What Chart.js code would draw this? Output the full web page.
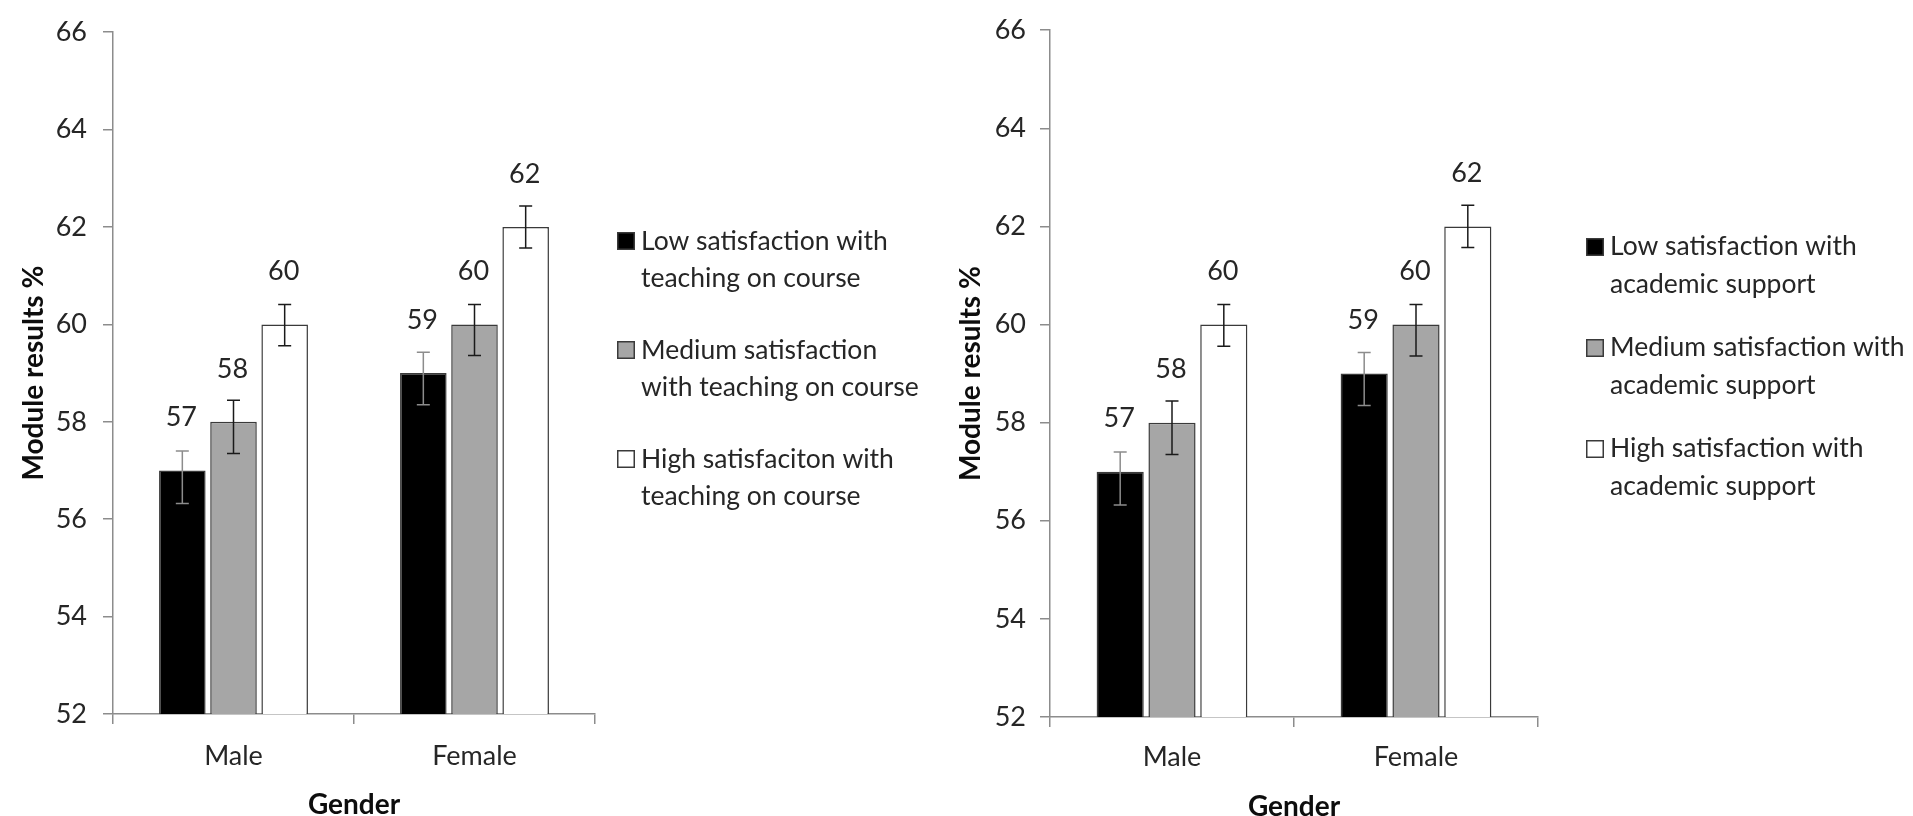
<!DOCTYPE html>
<html>
<head>
<meta charset="utf-8">
<script src="https://cdn.jsdelivr.net/npm/chart.js@4"></script>
<style>
  html, body { margin: 0; padding: 0; background: #fff; overflow: hidden; }
  canvas { position: absolute; top: 0; }
  #leftChart { left: 0; }
  #rightChart { left: 937px; }
</style>
</head>
<body>
<canvas id="leftChart" width="937" height="816"></canvas>
<canvas id="rightChart" width="976" height="816"></canvas>
<script>
// data (both panels show the same means)
const genders = ['Male', 'Female'];
const lowScores = [57, 59];
const mediumScores = [58, 60];
const highScores = [60, 62];
const lowErrUp = [0.4, 0.43];
const lowErrDown = [0.68, 0.65];
const mediumErrUp = [0.44, 0.41];
const mediumErrDown = [0.65, 0.64];
const highErrUp = [0.41, 0.43];
const highErrDown = [0.44, 0.43];
const yMin = 52;
const yMax = 66;
const yStep = 2;
const teachingLabels = [
    ['Low satisfaction with', 'teaching on course'],
    ['Medium satisfaction', 'with teaching on course'],
    ['High satisfaciton with', 'teaching on course']
];
const supportLabels = [
    ['Low satisfaction with', 'academic support'],
    ['Medium satisfaction with', 'academic support'],
    ['High satisfaction with', 'academic support']
];

const textColor = '#262626';
const axisColor = '#8c8c8c';
const barBorder = '#3a3a3a';

// error bars + value labels, positioned through the y scale
const errorBarPlugin = {
    id: 'errorBars',
    afterDatasetsDraw(chart) {
        const ctx = chart.ctx;
        const yScale = chart.scales.y;
        chart.data.datasets.forEach((ds, i) => {
            const meta = chart.getDatasetMeta(i);
            meta.data.forEach((bar, j) => {
                const v = ds.data[j];
                const top = yScale.getPixelForValue(v + ds.errUp[j]);
                const bot = yScale.getPixelForValue(v - ds.errDown[j]);
                ctx.save();
                ctx.strokeStyle = ds.errColor;
                ctx.lineWidth = 1.5;
                ctx.beginPath();
                ctx.moveTo(bar.x, top); ctx.lineTo(bar.x, bot);
                ctx.moveTo(bar.x - 6.5, top); ctx.lineTo(bar.x + 6.5, top);
                ctx.moveTo(bar.x - 6.5, bot); ctx.lineTo(bar.x + 6.5, bot);
                ctx.stroke();
                ctx.fillStyle = textColor;
                ctx.font = '27px Lato';
                ctx.textAlign = 'center';
                ctx.textBaseline = 'middle';
                ctx.fillText(String(v), bar.x - 1, bar.y - 53);
                ctx.restore();
            });
        });
    }
};

// two-line legend on the right side
const sideLegendPlugin = {
    id: 'sideLegend',
    afterDraw(chart, args, opts) {
        const ctx = chart.ctx;
        ctx.save();
        ctx.font = '26.5px Lato';
        ctx.textAlign = 'left';
        ctx.textBaseline = 'alphabetic';
        chart.data.datasets.forEach((ds, i) => {
            const base = opts.baseline + i * opts.entryGap;
            const boxTop = opts.boxTop + i * opts.entryGap;
            ctx.fillStyle = ds.backgroundColor;
            ctx.fillRect(opts.boxX, boxTop, 18, 18);
            ctx.strokeStyle = barBorder;
            ctx.lineWidth = 1.5;
            ctx.strokeRect(opts.boxX + 0.75, boxTop + 0.75, 16.5, 16.5);
            ctx.fillStyle = textColor;
            ds.label.forEach((line, k) => {
                ctx.fillText(line, opts.textX, base + k * opts.lineGap);
            });
        });
        ctx.restore();
    }
};

function makeDatasets(labels) {
    return [
        { label: labels[0], data: lowScores, errUp: lowErrUp, errDown: lowErrDown,
          backgroundColor: '#000000', errColor: '#8c8c8c' },
        { label: labels[1], data: mediumScores, errUp: mediumErrUp, errDown: mediumErrDown,
          backgroundColor: '#a6a6a6', errColor: '#1a1a1a' },
        { label: labels[2], data: highScores, errUp: highErrUp, errDown: highErrDown,
          backgroundColor: '#ffffff', errColor: '#1a1a1a' }
    ].map(d => Object.assign(d, {
        borderColor: barBorder,
        borderWidth: 1.5,
        categoryPercentage: 0.637,
        barPercentage: 0.91
    }));
}

function renderPanel(canvasId, labels, p) {
    const ctx = document.getElementById(canvasId);
    if (!ctx) return;
    new Chart(ctx, {
        type: 'bar',
        data: { labels: genders, datasets: makeDatasets(labels) },
        plugins: [errorBarPlugin, sideLegendPlugin],
        options: {
            responsive: false,
            animation: false,
            events: [],
            layout: { padding: { left: 0, top: p.top, right: p.right, bottom: 0 } },
            plugins: {
                legend: { display: false },
                tooltip: { enabled: false },
                sideLegend: p.legend
            },
            scales: {
                x: {
                    ticks: { color: textColor, font: { family: 'Lato', size: 27 }, padding: p.xTickPad },
                    grid: { offset: true, drawOnChartArea: false, tickLength: 10, color: axisColor, lineWidth: 1.5 },
                    border: { color: axisColor, width: 1.5 },
                    title: {
                        display: true, text: 'Gender', color: '#0d0d0d',
                        font: { family: 'Lato', size: 28, weight: 'bold', lineHeight: 1 },
                        padding: { top: 0, bottom: p.xTitlePad }
                    },
                    afterFit(s) { s.height = p.xHeight; }
                },
                y: {
                    min: yMin, max: yMax,
                    ticks: { stepSize: yStep, color: textColor, font: { family: 'Lato', size: 27 }, padding: p.yTickPad },
                    grid: { drawOnChartArea: false, tickLength: 10, color: axisColor, lineWidth: 1.5 },
                    border: { color: axisColor, width: 1.5 },
                    title: {
                        display: true, text: 'Module results %', color: '#0d0d0d',
                        font: { family: 'Lato', size: 28, weight: 'bold', lineHeight: 1 },
                        padding: { top: p.yTitlePad, bottom: 0 }
                    },
                    afterFit(s) { s.width = 113; }
                }
            }
        }
    });
}

renderPanel('leftChart', teachingLabels, {
    top: 23, right: 342, xHeight: 102, xTickPad: 16, xTitlePad: -3, yTickPad: 16, yTitlePad: 20,
    legend: { boxX: 617, boxTop: 232, textX: 641, baseline: 250, lineGap: 37, entryGap: 109 }
});
renderPanel('rightChart', supportLabels, {
    top: 26, right: 375, xHeight: 99, xTickPad: 14, xTitlePad: -5, yTickPad: 14, yTitlePad: 20,
    legend: { boxX: 649, boxTop: 238, textX: 673, baseline: 255, lineGap: 38, entryGap: 101 }
});
</script>
</body>
</html>
